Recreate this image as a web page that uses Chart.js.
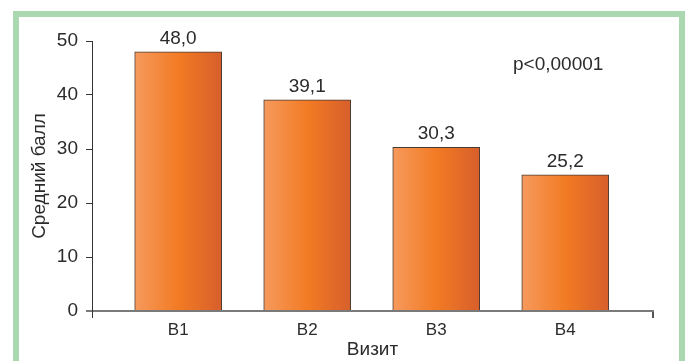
<!DOCTYPE html>
<html>
<head>
<meta charset="utf-8">
<script src="https://cdn.jsdelivr.net/npm/chart.js@4/dist/chart.umd.min.js"></script>
<style>
    html, body { margin: 0; padding: 0; background: #fff; }
    #wrap { position: relative; width: 685px; height: 361px; overflow: hidden; }
    #frame {
        position: absolute; left: 13px; top: 11px; width: 660px; height: 400px;
        border: 6px solid #aad9b1; border-bottom: none;
    }
    canvas { position: absolute; left: 0; top: 0; }
</style>
</head>
<body>
<div id="wrap">
    <div id="frame"></div>
    <canvas id="visitChart" width="685" height="361"></canvas>
</div>
<script>
    const visits = ['В1', 'В2', 'В3', 'В4'];
    const scores = [48.0, 39.1, 30.3, 25.2];
    const yTicks = [0, 10, 20, 30, 40, 50];
    const pNote = 'p<0,00001';

    const FONT = "'Liberation Sans', Arial, sans-serif";
    const TEXT = '#2b2b2b';
    const X_MIN = 0.332, X_MAX = 4.68;
    const BAR_W = 87;

    // подписи значений над столбиками + p
    const valueLabels = {
        id: 'valueLabels',
        afterDatasetsDraw(chart) {
            const ctx = chart.ctx;
            ctx.save();
            ctx.font = '19px ' + FONT;
            ctx.fillStyle = TEXT;
            ctx.textAlign = 'center';
            ctx.textBaseline = 'alphabetic';
            chart.getDatasetMeta(0).data.forEach((bar, i) => {
                ctx.fillText(scores[i].toFixed(1).replace('.', ','), bar.x, bar.y - 8);
            });
            ctx.textAlign = 'left';
            ctx.fillText(pNote, chart.chartArea.right - 140, 70);
            ctx.restore();
        }
    };

    const ctx = document.getElementById('visitChart').getContext('2d');

    // горизонтальный градиент внутри каждого столбика
    function barGradient(context) {
        const chart = context.chart;
        if (!chart.chartArea) return '#f27b22';
        const cx = chart.scales.x.getPixelForValue(context.raw.x);
        const g = chart.ctx.createLinearGradient(cx - BAR_W / 2, 0, cx + BAR_W / 2, 0);
        g.addColorStop(0, '#f69a5d');
        g.addColorStop(0.5, '#f27b24');
        g.addColorStop(1, '#d75f2b');
        return g;
    }

    new Chart(ctx, {
        type: 'bar',
        data: {
            datasets: [{
                data: visits.map((v, i) => ({ x: i + 1, y: scores[i] })),
                backgroundColor: barGradient,
                borderColor: '#4a3b32',
                borderWidth: 1,
                borderSkipped: 'bottom',
                barThickness: BAR_W
            }]
        },
        options: {
            responsive: false,
            animation: false,
            layout: { padding: { top: 41, right: 32, left: 0, bottom: 0 } },
            plugins: { legend: { display: false }, tooltip: { enabled: false } },
            scales: {
                x: {
                    type: 'linear',
                    offset: false,
                    min: X_MIN,
                    max: X_MAX,
                    afterBuildTicks: function(scale) {
                        scale.ticks = [X_MIN].concat(visits.map((v, i) => i + 1), [X_MAX])
                            .map(v => ({ value: v }));
                    },
                    afterFit: function(scale) { scale.height = 50; },
                    grid: {
                        offset: false,
                        drawOnChartArea: false,
                        tickLength: 7,
                        color: c => c.index === 0 ? '#333' : (c.index === visits.length + 1 ? '#555' : 'rgba(0,0,0,0)'),
                        lineWidth: c => c.index === visits.length + 1 ? 2 : 1
                    },
                    border: { color: '#7a7a7a', width: 2 },
                    ticks: {
                        autoSkip: false,
                        maxRotation: 0,
                        padding: 2,
                        color: TEXT,
                        font: { family: FONT, size: 17 },
                        callback: v => Number.isInteger(v) ? visits[v - 1] : ''
                    },
                    title: {
                        display: true,
                        text: 'Визит',
                        color: TEXT,
                        font: { family: FONT, size: 19 },
                        padding: 0
                    }
                },
                y: {
                    min: 0,
                    max: 50,
                    afterBuildTicks: function(scale) {
                        scale.ticks = yTicks.map(v => ({ value: v }));
                    },
                    afterFit: function(scale) { scale.width = 92; },
                    grid: {
                        drawOnChartArea: false,
                        tickLength: 6,
                        color: c => c.index === 0 ? '#7a7a7a' : '#333',
                        lineWidth: c => c.index === 0 ? 2 : 1
                    },
                    border: { color: '#333', width: 1 },
                    ticks: {
                        padding: 8,
                        color: TEXT,
                        font: { family: FONT, size: 19 }
                    },
                    title: {
                        display: true,
                        text: 'Средний балл',
                        color: TEXT,
                        font: { family: FONT, size: 19 },
                        padding: { top: 28, bottom: 0 }
                    }
                }
            }
        },
        plugins: [valueLabels]
    });
</script>
</body>
</html>
